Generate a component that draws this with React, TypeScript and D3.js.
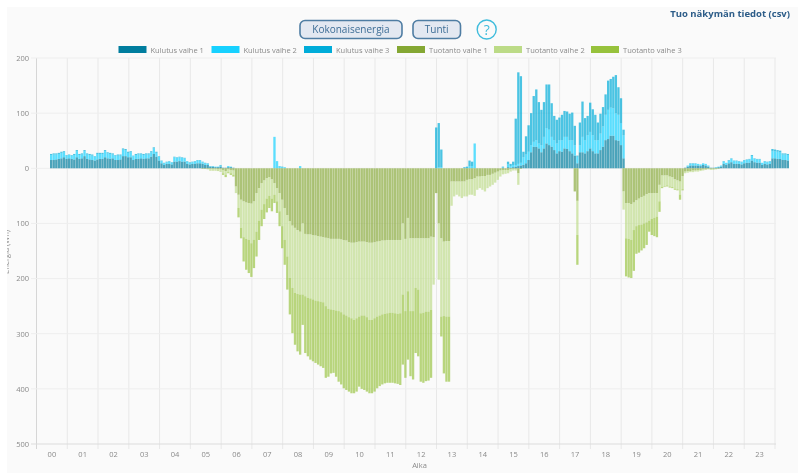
import React from "react";
import * as d3 from "d3";

const hours = ["00","01","02","03","04","05","06","07","08","09","10","11","12","13","14","15","16","17","18","19","20","21","22","23"];
const yTicks = [200,100,0,-100,-200,-300,-400,-500];

// 288 five-minute bars; one row per hour
const kulutus1 = [
15,15,16,17,18,20,17,18,17,16,20,17,
18,22,17,16,15,14,16,17,17,20,18,17,
18,15,15,16,22,22,20,20,15,17,17,18,
17,18,18,21,26,21,14,9,6,8,8,7,
12,12,13,12,12,8,7,8,8,9,9,8,
6,6,3,3,2,2,3,1,1,2,2,1,
0,0,0,0,0,0,0,0,0,0,0,0,
0,0,0,0,0,0,0,0,0,0,0,0,
0,0,0,0,0,0,0,0,0,0,0,0,
0,0,0,0,0,0,0,0,0,0,0,0,
0,0,0,0,0,0,0,0,0,0,0,0,
0,0,0,0,0,0,0,0,0,0,0,0,
0,0,0,0,0,0,0,0,0,0,0,0,
0,0,0,0,0,0,0,0,0,0,0,0,
0,0,0,0,0,0,0,0,1,0,2,1,
2,3,4,5,6,9,15,29,39,39,36,29,
36,45,42,39,33,27,31,30,36,35,31,27,
23,9,29,29,27,31,36,31,27,27,33,39,
51,53,59,59,51,50,42,18,0,0,0,0,
0,0,0,0,0,0,0,0,0,0,0,0,
0,0,0,0,0,0,0,1,3,5,5,5,
5,4,6,5,3,1,1,1,2,3,8,6,
9,11,8,8,8,7,9,10,10,14,11,10,
10,6,8,7,8,18,18,17,17,15,15,14];

const kulutus2 = [
9,10,9,9,10,9,6,6,6,8,11,7,
7,9,8,8,8,7,10,9,9,11,9,9,
7,8,8,7,12,11,8,9,7,7,8,7,
7,7,7,8,10,7,7,4,3,3,4,3,
8,7,7,7,6,4,3,3,4,5,5,3,
3,2,1,1,1,1,2,0,0,2,1,0,
0,0,0,0,0,0,0,0,0,0,0,0,
0,0,0,57,13,3,2,2,0,0,0,0,
0,4,0,0,0,0,0,0,0,0,0,0,
0,0,0,0,0,0,0,0,0,0,0,0,
0,0,0,0,0,0,0,0,0,0,0,0,
0,0,0,0,0,0,0,0,0,0,0,0,
0,0,0,0,0,0,0,2,2,0,0,0,
0,0,0,0,0,0,0,4,4,45,0,0,
0,0,0,0,0,0,0,0,1,0,5,3,
4,3,4,5,14,16,15,13,9,12,9,13,
21,28,28,18,18,18,20,21,21,22,20,24,
19,12,13,28,24,29,30,29,24,24,30,37,
46,53,51,50,49,47,40,42,0,0,0,0,
0,0,0,0,0,0,0,0,0,0,0,0,
0,0,0,0,0,0,0,0,2,3,3,3,
3,3,3,3,2,0,0,1,1,2,4,4,
5,6,5,5,4,4,5,5,6,8,6,6,
6,4,4,4,4,13,13,13,12,10,10,10];

const kulutus3 = [
2,2,2,2,2,2,1,1,1,2,2,2,
2,2,2,2,2,1,2,2,2,2,2,2,
2,1,2,2,2,2,2,2,1,2,2,2,
2,2,2,2,2,2,1,1,1,1,1,1,
1,1,1,1,1,1,1,1,1,1,1,1,
1,1,0,0,0,0,1,0,0,0,0,0,
0,0,0,0,0,0,0,0,0,0,0,0,
0,0,0,0,0,1,1,0,0,0,0,0,
0,0,0,0,0,0,0,0,0,0,0,0,
0,0,0,0,0,0,0,0,0,0,0,0,
0,0,0,0,0,0,0,0,0,0,0,0,
0,0,0,0,0,0,0,0,0,0,0,0,
0,0,0,0,0,0,74,80,32,0,0,0,
0,0,0,0,0,2,3,10,8,0,0,0,
0,0,0,0,0,0,0,0,1,0,5,4,
6,84,166,157,10,33,48,58,83,92,75,64,
63,79,82,61,44,43,41,46,47,46,48,50,
35,2,41,64,40,35,53,47,46,32,36,35,
37,53,52,57,69,50,45,10,0,0,0,0,
0,0,0,0,0,0,0,0,0,0,0,0,
0,0,0,0,0,0,0,0,0,1,1,1,
0,0,0,0,0,0,0,0,0,0,1,0,
1,1,1,1,1,1,1,1,1,2,1,1,
1,0,1,1,1,4,3,3,3,2,2,2];

const tuotanto1 = [
0,0,0,0,0,0,0,0,0,0,0,0,
0,0,0,0,0,0,0,0,0,0,0,0,
0,0,0,0,0,0,0,0,0,0,0,0,
0,0,0,0,0,0,0,0,0,0,0,0,
0,0,0,0,0,0,0,0,0,0,0,1,
1,1,1,1,1,2,2,3,5,2,3,4,
33,48,57,60,62,63,64,60,45,36,27,22,
18,16,20,27,36,45,57,72,85,96,104,108,
112,115,100,119,120,120,121,122,123,124,125,126,
127,128,128,128,128,129,130,131,134,135,135,134,
133,133,133,134,135,135,134,133,132,131,131,130,
130,130,130,130,130,100,128,90,127,127,127,127,
127,127,127,127,124,125,45,100,127,133,132,132,
24,24,24,24,24,24,21,20,20,18,15,15,
14,14,12,12,10,8,6,4,3,3,3,2,
1,1,9,1,0,0,0,0,0,0,0,0,
0,0,0,0,0,0,0,0,0,0,0,0,
42,59,0,0,0,0,0,0,0,0,0,0,
0,0,0,0,0,0,0,42,63,63,65,62,
58,55,52,50,47,45,45,45,45,30,13,13,
13,15,16,20,22,24,14,6,5,5,4,4,
3,3,2,2,1,1,1,1,1,0,0,0,
0,0,0,0,0,0,0,0,0,0,0,0,
0,0,0,0,0,0,0,0,0,0,0,0];

const tuotanto2 = [
0,0,0,0,0,0,0,0,0,0,0,0,
0,0,0,0,0,0,0,0,0,0,0,0,
0,0,0,0,0,0,0,0,0,0,0,0,
0,0,0,0,0,0,0,0,0,0,0,0,
0,0,0,0,0,0,0,0,0,0,0,0,
0,1,2,2,2,2,3,6,7,5,6,8,
12,24,51,65,66,67,72,70,70,59,48,43,
37,34,35,21,24,33,48,58,75,103,113,118,
116,114,129,113,115,116,117,118,118,118,118,124,
128,128,129,130,131,132,135,136,136,137,140,138,
136,134,134,136,140,140,138,136,135,134,133,133,
132,132,133,134,133,129,131,133,132,132,90,93,
136,135,133,133,133,86,0,102,142,135,137,137,
44,27,24,27,30,27,30,28,28,32,24,21,
25,28,24,21,20,18,15,11,8,7,6,4,
3,3,21,0,0,0,0,0,0,0,0,0,
0,0,0,0,0,0,0,0,0,0,0,0,
0,62,0,0,0,0,0,0,0,0,0,0,
0,0,0,0,0,0,0,33,64,65,65,50,
47,48,50,50,51,50,47,45,43,30,21,20,
18,18,18,17,16,24,24,3,3,2,3,2,
3,2,2,1,1,2,2,1,0,0,0,0,
0,0,0,0,0,0,0,0,0,0,0,0,
0,0,0,0,0,0,0,0,0,0,0,0];

const tuotanto3 = [
0,0,0,0,0,0,0,0,0,0,0,0,
0,0,0,0,0,0,0,0,0,0,0,0,
0,0,0,0,0,0,0,0,0,0,0,0,
0,0,0,0,0,0,0,0,0,0,0,0,
0,0,0,0,0,0,0,0,0,0,0,0,
0,0,1,1,1,1,1,3,4,2,3,3,
0,17,19,44,56,60,61,51,45,35,30,27,
25,22,23,15,21,27,40,45,60,66,82,94,
104,109,55,103,106,111,112,113,115,117,119,130,
123,116,114,120,128,131,134,135,135,136,133,133,
127,133,135,135,133,133,133,130,128,127,126,126,
127,127,127,127,130,127,121,124,118,124,118,121,
124,127,126,125,123,0,0,0,36,104,118,118,
0,0,0,0,0,0,0,0,0,0,0,0,
0,0,0,0,0,0,0,0,0,0,0,0,
0,0,0,0,0,0,0,0,0,0,0,0,
0,0,0,0,0,0,0,0,0,0,0,0,
0,54,0,0,0,0,0,0,0,0,0,0,
0,0,0,0,0,0,0,0,69,70,69,74,
50,50,47,45,41,20,29,33,37,19,2,1,
2,2,2,2,2,9,2,0,0,0,0,0,
0,0,0,0,0,0,0,0,0,0,0,0,
0,0,0,0,0,0,0,0,0,0,0,0,
0,0,0,0,0,0,0,0,0,0,0,0];

const kulutusSeries = [kulutus1, kulutus2, kulutus3];
const tuotantoSeries = [tuotanto1, tuotanto2, tuotanto3];
const kulutusColors = ["#007d9e", "#17d1ff", "#00acd9"];
const tuotantoColors = ["#84a733", "#bcdb87", "#97c23c"];
const legendNames = ["Kulutus vaihe 1","Kulutus vaihe 2","Kulutus vaihe 3","Tuotanto vaihe 1","Tuotanto vaihe 2","Tuotanto vaihe 3"];
const legendStart = [118.5, 211.5, 304, 397, 494, 591];
const labelFont = "'Open Sans', 'Noto Sans', sans-serif";

export default function App() {
  const y = d3.scaleLinear().domain([200, -500]).range([58, 444]);
  const grid = d3.scaleLinear().domain([0, 24]).range([36.5, 775]);
  const bar = d3.scaleBand<number>().domain(d3.range(288)).range([50, 789]).paddingInner(0.1);

  const stacks = (series: number[][], colors: string[], sign: number, opacity: number) => {
    const out: React.ReactElement[] = [];
    d3.range(288).forEach((i) => {
      let acc = 0;
      series.forEach((s, k) => {
        const v = s[i] || 0;
        if (!v) return;
        const a = y(sign * acc);
        const b = y(sign * (acc + v));
        acc += v;
        out.push(
          <rect key={`${sign}-${k}-${i}`} x={bar(i)} width={bar.bandwidth()} y={Math.min(a, b)} height={Math.abs(b - a)} fill={colors[k]} fillOpacity={opacity} />
        );
      });
    });
    return out;
  };

  return (
    <svg width={798} height={473} style={{ position: "absolute", left: 0, top: 0, filter: "blur(0.5px)", background: "#fff" }}>
      <rect x={7} y={7} width={791} height={466} fill="#fafafa" />
      <text x={790} y={16.5} textAnchor="end" fontFamily={labelFont} fontSize={9.5} fontWeight={700} fill="#2c5c88">Tuo näkymän tiedot (csv)</text>

      <rect x={300} y={20.5} width={102} height={18} rx={5} fill="#e3e8f1" stroke="#4f7da3" strokeWidth={1.6} />
      <text x={351} y={33} textAnchor="middle" fontFamily={labelFont} fontSize={10} fill="#3d6d96">Kokonaisenergia</text>
      <rect x={413} y={20.5} width={47.5} height={18} rx={5} fill="#e3e8f1" stroke="#4f7da3" strokeWidth={1.6} />
      <text x={436.7} y={33} textAnchor="middle" fontFamily={labelFont} fontSize={10} fill="#3d6d96">Tunti</text>
      <circle cx={486.7} cy={29.5} r={9.5} fill="none" stroke="#3fbcdc" strokeWidth={1.4} />
      <text x={486.7} y={34.5} textAnchor="middle" fontFamily={labelFont} fontSize={14} fill="#3fbcdc">?</text>

      {legendNames.map((n, i) => (
        <g key={n}>
          <rect x={legendStart[i]} y={46} width={28} height={7} fill={[...kulutusColors, ...tuotantoColors][i]} />
          <text x={legendStart[i] + 32} y={52.5} fontFamily={labelFont} fontSize={7.5} fill="#8a8a8a">{n}</text>
        </g>
      ))}

      {d3.range(25).map((h) => (
        <line key={h} x1={grid(h)} x2={grid(h)} y1={58} y2={449} stroke={h === 0 ? "#d6d6d6" : "#e8e8e8"} />
      ))}
      {yTicks.map((t) => (
        <g key={t}>
          <line x1={31} x2={776} y1={y(t)} y2={y(t)} stroke={t === -500 ? "#dcdcdc" : "#eeeeee"} />
          <text x={29} y={y(t) + 2.8} textAnchor="end" fontFamily={labelFont} fontSize={7.5} fill="#8a8a8a">{Math.abs(t)}</text>
        </g>
      ))}
      {hours.map((h, i) => (
        <text key={h} x={grid(i + 0.5)} y={456.5} textAnchor="middle" fontFamily={labelFont} fontSize={7.5} fill="#8a8a8a">{h}</text>
      ))}
      <text x={419.5} y={468} textAnchor="middle" fontFamily={labelFont} fontSize={7.5} fill="#8a8a8a">Aika</text>
      <text transform="translate(9,252) rotate(-90)" textAnchor="middle" fontFamily={labelFont} fontSize={7.5} fill="#8a8a8a">Energia (Wh)</text>
      <rect x={0} y={0} width={7} height={473} fill="#fff" />

      {stacks(kulutusSeries, kulutusColors, 1, 0.7)}
      {stacks(tuotantoSeries, tuotantoColors, -1, 0.66)}
    </svg>
  );
}
